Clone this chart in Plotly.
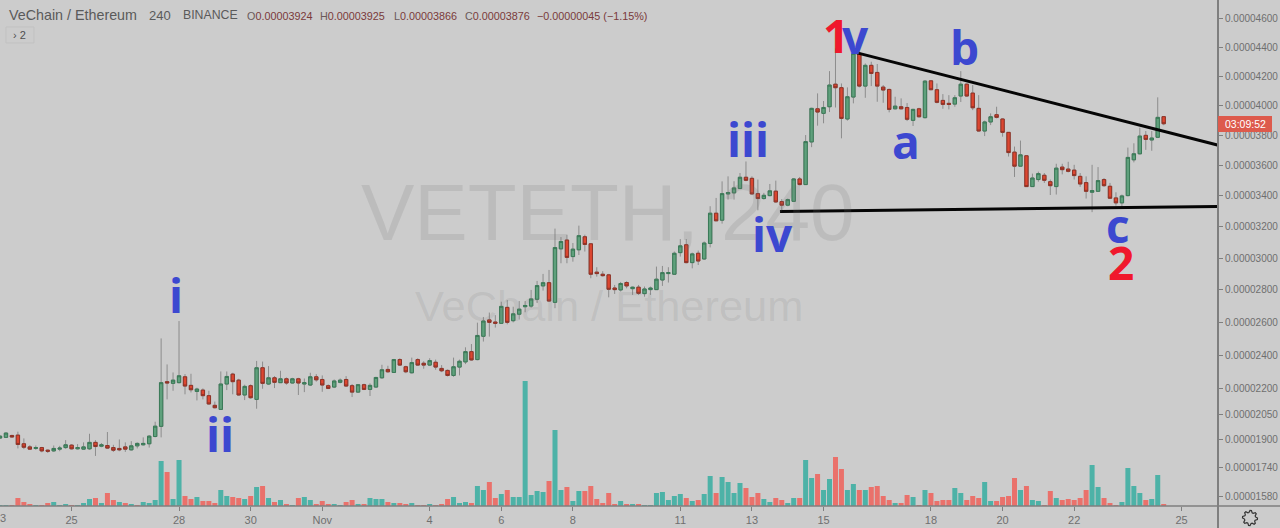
import datetime as dt
import numpy as np
import plotly.graph_objects as go

# 4-hour VET/ETH candles, prices in units of 1e-8 ETH
opens = [1911,1915,1926,1928,1878,1860,1851,1856,1841,1837,
         1847,1856,1870,1849,1847,1849,1886,1864,1868,1856,
         1851,1860,1843,1866,1872,1878,1920,1979,2242,2232,
         2236,2271,2220,2184,2192,2159,2102,2078,2228,2287,
         2251,2163,2218,2137,2325,2228,2265,2236,2259,2234,
         2259,2228,2222,2271,2255,2218,2210,2238,2255,2218,
         2180,2224,2196,2210,2265,2315,2297,2374,2331,2295,
         2374,2352,2341,2358,2321,2309,2279,2329,2360,2422,
         2374,2515,2615,2602,2594,2692,2610,2650,2696,2700,
         2742,2825,2845,2723,3058,3114,3009,3052,3135,3090,
         2911,2898,2894,2812,2800,2846,2808,2817,2777,2802,
         2802,2862,2902,2898,3034,3084,2971,3030,2994,3092,
         3286,3241,3411,3418,3446,3520,3513,3413,3381,3400,
         3429,3361,3338,3363,3509,3472,3754,3977,3946,3991,
         4145,4121,3908,4057,4358,4132,4275,4226,4125,4109,
         3977,3991,3986,3899,3977,3917,4168,4107,4034,4014,
         4009,4064,4145,4084,3980,3827,3888,3937,3908,3818,
         3686,3593,3662,3459,3505,3533,3491,3459,3587,3574,
         3567,3526,3485,3422,3428,3505,3461,3385,3353,3400,
         3635,3675,3798,3767,3785,3924]
highs = [1928,1944,1930,1948,1909,1870,1868,1860,1845,1868,
         1866,1899,1876,1876,1886,1936,1899,1882,1946,1872,
         1903,1886,1893,1886,1915,1928,2006,2502,2345,2297,
         2608,2287,2289,2206,2202,2188,2124,2303,2303,2295,
         2259,2224,2226,2366,2362,2335,2275,2307,2267,2265,
         2265,2261,2295,2287,2279,2226,2255,2261,2275,2228,
         2228,2230,2232,2271,2343,2337,2378,2382,2337,2386,
         2382,2364,2382,2374,2341,2315,2386,2374,2448,2468,
         2598,2633,2660,2644,2727,2737,2696,2731,2731,2800,
         2856,2900,2925,3187,3133,3148,3095,3206,3148,3090,
         2942,2917,2900,2831,2850,2854,2821,2831,2821,2821,
         2946,2950,2942,3041,3120,3120,3034,3047,3105,3331,
         3385,3493,3526,3494,3548,3624,3526,3505,3418,3476,
         3498,3378,3381,3515,3522,3800,3984,4082,4030,4235,
         4393,4150,4123,4358,4370,4288,4300,4284,4139,4114,
         4059,4048,4016,3977,3984,4173,4173,4150,4077,4070,
         4070,4235,4150,4139,4070,3897,3946,3991,3912,3818,
         3723,3763,3662,3544,3557,3548,3505,3609,3609,3622,
         3602,3548,3526,3602,3587,3515,3483,3422,3407,3716,
         3745,3850,3827,3827,4055,3925]
lows = [1907,1911,1915,1851,1847,1843,1843,1829,1825,1831,
        1835,1849,1845,1845,1843,1843,1808,1858,1849,1831,
        1835,1831,1839,1851,1868,1856,1915,1915,2137,2188,
        2232,2167,2178,2131,2137,2106,2084,2075,2192,2167,
        2159,2133,2141,2082,2200,2222,2204,2236,2224,2232,
        2163,2180,2216,2242,2182,2198,2204,2232,2212,2151,
        2176,2192,2157,2206,2259,2295,2295,2337,2293,2291,
        2337,2319,2335,2313,2299,2273,2271,2279,2347,2368,
        2370,2483,2513,2568,2590,2588,2600,2617,2662,2690,
        2719,2796,2727,2687,2967,2967,2977,3019,3041,2873,
        2883,2883,2754,2775,2790,2810,2769,2769,2758,2769,
        2800,2825,2846,2894,3009,2967,2935,2956,2988,3067,
        3237,3219,3374,3374,3444,3494,3407,3305,3374,3396,
        3353,3288,3331,3363,3467,3470,3719,3863,3879,3955,
        3986,3778,3897,4014,4123,4052,4132,4025,4018,3953,
        3973,3973,3894,3861,3919,3912,4105,4014,3977,3973,
        3991,4023,4059,3968,3823,3793,3867,3912,3789,3657,
        3522,3591,3457,3457,3491,3483,3404,3407,3539,3552,
        3505,3457,3381,3293,3426,3457,3379,3335,3327,3396,
        3618,3671,3701,3695,3780,3866]
closes = [1922,1940,1917,1874,1858,1847,1856,1837,1835,1851,
          1853,1872,1849,1856,1860,1886,1862,1872,1853,1841,
          1843,1847,1866,1880,1880,1922,1980,2236,2234,2251,
          2277,2216,2194,2198,2159,2110,2088,2228,2273,2242,
          2163,2214,2147,2325,2232,2265,2238,2259,2234,2259,
          2234,2236,2271,2253,2222,2202,2246,2251,2216,2180,
          2224,2196,2220,2267,2313,2301,2374,2341,2301,2356,
          2341,2341,2368,2329,2307,2279,2331,2364,2422,2372,
          2520,2608,2600,2594,2698,2600,2652,2681,2704,2744,
          2827,2845,2731,3066,3105,3004,3056,3142,3086,2898,
          2902,2889,2804,2802,2840,2825,2817,2779,2806,2812,
          2867,2908,2908,3030,3077,2971,3026,2981,3095,3286,
          3237,3413,3420,3450,3520,3500,3411,3381,3402,3431,
          3359,3338,3374,3509,3472,3756,3980,3955,3986,4139,
          4121,3912,4059,4358,4132,4275,4219,4132,4105,3973,
          3995,3977,3906,3973,3923,4166,4107,4021,4007,4007,
          4052,4145,4064,3984,3827,3888,3923,3919,3818,3683,
          3593,3668,3459,3515,3544,3500,3465,3580,3570,3559,
          3531,3476,3428,3433,3498,3465,3383,3353,3398,3651,
          3675,3793,3771,3780,3919,3876]
volumes = [1,1,0.3,8,4,2,1,0.3,3,4,
           1,2,0.5,0.5,3,7,8,3,13,6,
           4,3,2,0.5,4,3,6,45,34,7,
           46,10,7,9,5,5,3,16,10,9,
           8,7,10,19,20,8,4,6,2,1,
           8,9,6,1.5,5,1.5,2,1,4,6,
           2,2,8,7,7,4,3,3,2,3,
           1,1,2,1,2,7,9,3,4,3,
           20,16,24,8,12,16,9,9,125,11,
           15,14,25,76,16,19,5,15,15,20,
           7,3,13,2,5,2,2,2,0.3,1,
           13,14,6,10,12,8,5,6,12,30,
           13,29,24,13,23,18,9,13,7,4,
           8,6,3,8,8,46,28,32,16,27,
           49,37,16,22,16,16,19,20,10,6,
           3,3,11,9,1,16,13,5,6,6,
           18,13,6,10,8,24,5,5,9,10,
           28,16,20,6,5,1,15,8,6,7,
           6,8,16,41,19,8,3,1,4,38,
           20,13,6,7,31,2]
volume_sides = ("ttrrrrtrrt" "ttrtttrtrr" "trtrttttrt" "trrtrrrttr" "rtrtrtrtrt"
                "rttrrrttrr" "trtttrtrrt" "rrtrrrtttr" "ttrrtrtttt" "ttrttrttrr"
                "rrrrtrtrtt" "tttttrtrtt" "rttttrrrtt" "rrttrttrtt" "rrttrtrrrr"
                "trrtrtrrrr" "ttrrrttrrr" "rtrttrrtrr" "rrrttrrrtt" "ttrttr")

price_ticks = [4600,4400,4200,4000,3800,3600,3400,3200,3000,2800,
               2600,2400,2200,2050,1900,1740,1580]
day_ticks = [("2019-10-25","25"),("2019-10-28","28"),("2019-10-30","30"),
             ("2019-11-01","Nov"),("2019-11-04","4"),("2019-11-06","6"),("2019-11-08","8"),
             ("2019-11-11","11"),("2019-11-13","13"),("2019-11-15","15"),("2019-11-18","18"),
             ("2019-11-20","20"),("2019-11-22","22"),("2019-11-25","25")]
# wave labels: text, candle position, price, colour
wave_labels = [("i",29.5,2768,"blue"),("ii",36.9,1933,"blue"),("iii",125.4,3772,"blue"),
               ("iv",129.5,3152,"blue"),("v",143.3,4478,"blue"),("a",151.8,3760,"blue"),
               ("b",161.7,4405,"blue"),("c",187.4,3207,"blue"),
               ("1",140.1,4490,"red"),("2",187.9,2974,"red")]
# trend lines: start and end as (candle position, price)
trend_lines = [((143.3,4365),(204.0,3733)),((130.7,3297),(204.0,3330))]

BG = "#cccccc"
AXIS = "#7f7f7f"
TICK_TEXT = "#6f6f6f"
BLUE = "#3c48d0"
RED = "#f0182c"
FONT = "Liberation Sans"
WIDTH, HEIGHT = 1280, 528
RIGHT, BOTTOM = 62, 22

START = dt.datetime(2019,10,23)
STEP_H = 4
def when(i):
    return START + dt.timedelta(hours=STEP_H*float(i))
# the price axis is compressed towards the top of the range
def scale(p):
    return np.log(np.asarray(p, dtype=float) + 10100)

times = [when(i) for i in range(len(opens))]
o, h, l, c = map(np.array, (opens, highs, lows, closes))
step_ms = STEP_H*3600*1000

fig = go.Figure()
fig.add_bar(x=times, y=volumes, yaxis="y2", width=step_ms*0.84,
            marker=dict(color=["#4db2a7" if s == "t" else "#ea716b" for s in volume_sides],
                        line=dict(width=0)))
# wicks in grey underneath, outlined bodies on top
fig.add_candlestick(x=times, open=scale(o), high=scale(h), low=scale(l), close=scale(c),
                    increasing=dict(line=dict(color="#8c8c8c", width=1), fillcolor="#8c8c8c"),
                    decreasing=dict(line=dict(color="#8c8c8c", width=1), fillcolor="#8c8c8c"))
fig.add_candlestick(x=times, open=scale(o), high=scale(np.maximum(o,c)), low=scale(np.minimum(o,c)),
                    close=scale(c),
                    increasing=dict(line=dict(color="#3a7a57", width=1), fillcolor="#5fa07c"),
                    decreasing=dict(line=dict(color="#8f3327", width=1), fillcolor="#dc4630"))

shapes = []
for (a, b) in trend_lines:
    shapes.append(dict(type="line", xref="x", yref="y", x0=when(a[0]), y0=float(scale(a[1])),
                       x1=when(b[0]), y1=float(scale(b[1])), line=dict(color="#050505", width=3)))
plot_w = WIDTH - RIGHT
plot_h = HEIGHT - BOTTOM
shapes.append(dict(type="line", xref="paper", yref="paper", x0=-0.01, x1=WIDTH/plot_w, y0=0, y1=0,
                   line=dict(color=AXIS, width=1.5)))
shapes.append(dict(type="line", xref="paper", yref="paper", x0=1, x1=1, y0=-BOTTOM/plot_h, y1=1,
                   line=dict(color=AXIS, width=2)))
shapes.append(dict(type="rect", xref="paper", yref="paper", x0=6/plot_w, x1=34/plot_w,
                   y0=1-43/plot_h, y1=1-27/plot_h, line=dict(color="#c1c1c1", width=1)))

# settings gear in the bottom corner, drawn as a toothed outline
def gear_path(cx, cy, teeth=8, outer=7.5, inner=5.6):
    pts = []
    for k in range(teeth*4):
        ang = 2*np.pi*k/(teeth*4)
        r = outer if k % 4 in (0, 1) else inner
        pts.append(((cx + r*np.cos(ang))/plot_w, 1-(cy + r*np.sin(ang))/plot_h))
    return "M" + " L".join(f"{x:.5f},{y:.5f}" for x, y in pts) + " Z"
shapes.append(dict(type="path", xref="paper", yref="paper", path=gear_path(1250, 518),
                   line=dict(color="#333333", width=1.2)))

def text_at(px, py, text, size, color, xanchor="left", family=FONT, **kw):
    return dict(xref="paper", yref="paper", x=px/plot_w, y=1-py/plot_h, text=text, showarrow=False,
                xanchor=xanchor, yanchor="middle", font=dict(family=family, size=size, color=color),
                borderpad=0, **kw)

ann = [
    text_at(608, 212, "VETETH, 240", 80, "rgba(110,110,110,0.17)", "center"),
    text_at(609, 306, "VeChain / Ethereum", 43.4, "rgba(110,110,110,0.14)", "center"),
    text_at(8, 15, "VeChain / Ethereum", 14.3, "#5a5a5a"),
    text_at(148, 15, "240", 13, "#5a5a5a"),
    text_at(182, 15, "BINANCE", 12.3, "#5a5a5a"),
    text_at(12, 35, "› 2", 11, "#4f4f4f"),
    # first day label sits on the left edge of the page, half cut off
    text_at(0, 518, "23", 11, TICK_TEXT, "center"),
]
ohlc = [(246,"O","0.00003924"),(319,"H","0.00003925"),(393,"L","0.00003866"),(464,"C","0.00003876")]
for px, letter, val in ohlc:
    ann.append(text_at(px, 16, f"<span style='color:#6a5a5a'>{letter}</span>{val}", 10.8, "#7a3a3a"))
ann.append(text_at(536, 16, "−0.00000045 (−1.15%)", 10.8, "#7a3a3a"))
for txt, pos, price, col in wave_labels:
    ann.append(dict(x=when(pos), y=float(scale(price)), xref="x", yref="y", text=f"<b>{txt}</b>",
                    showarrow=False, xanchor="center", yanchor="middle",
                    font=dict(family="Open Sans", size=46, color=RED if col == "red" else BLUE)))
shapes.append(dict(type="rect", xref="paper", yref="paper", x0=1, x1=1272/plot_w,
                   y0=1-132/plot_h, y1=1-116/plot_h, fillcolor="#dd5a4c", line=dict(width=0)))
ann.append(text_at(1245, 124, "03:09:52", 10.5, "#ffffff", "center"))

fig.update_layout(
    width=WIDTH, height=HEIGHT, autosize=False,
    margin=dict(l=0, r=RIGHT, t=0, b=BOTTOM, pad=0),
    paper_bgcolor=BG, plot_bgcolor=BG, showlegend=False, boxgap=0.2, boxmode="overlay",
    shapes=shapes, annotations=ann,
    font=dict(family=FONT, size=10.5, color=TICK_TEXT),
    xaxis=dict(type="date", range=[START, when(204.1)], rangeslider=dict(visible=False),
               showgrid=False, zeroline=False, showline=False,
               tickmode="array", tickvals=[d for d, _ in day_ticks], ticktext=[t for _, t in day_ticks],
               ticks="outside", ticklen=4, tickcolor=AXIS, tickfont=dict(size=11, color=TICK_TEXT)),
    yaxis=dict(side="right", range=[float(scale(1524)), float(scale(4735))], showgrid=False,
               zeroline=False, showline=False, tickmode="array",
               tickvals=[float(scale(p)) for p in price_ticks],
               ticktext=[f"{p*1e-8:.8f}" for p in price_ticks],
               ticks="outside", ticklen=4, tickcolor=AXIS, tickfont=dict(size=10, color=TICK_TEXT)),
    yaxis2=dict(overlaying="y", range=[0, plot_h], visible=False),
)
fig.write_html("out.html")
